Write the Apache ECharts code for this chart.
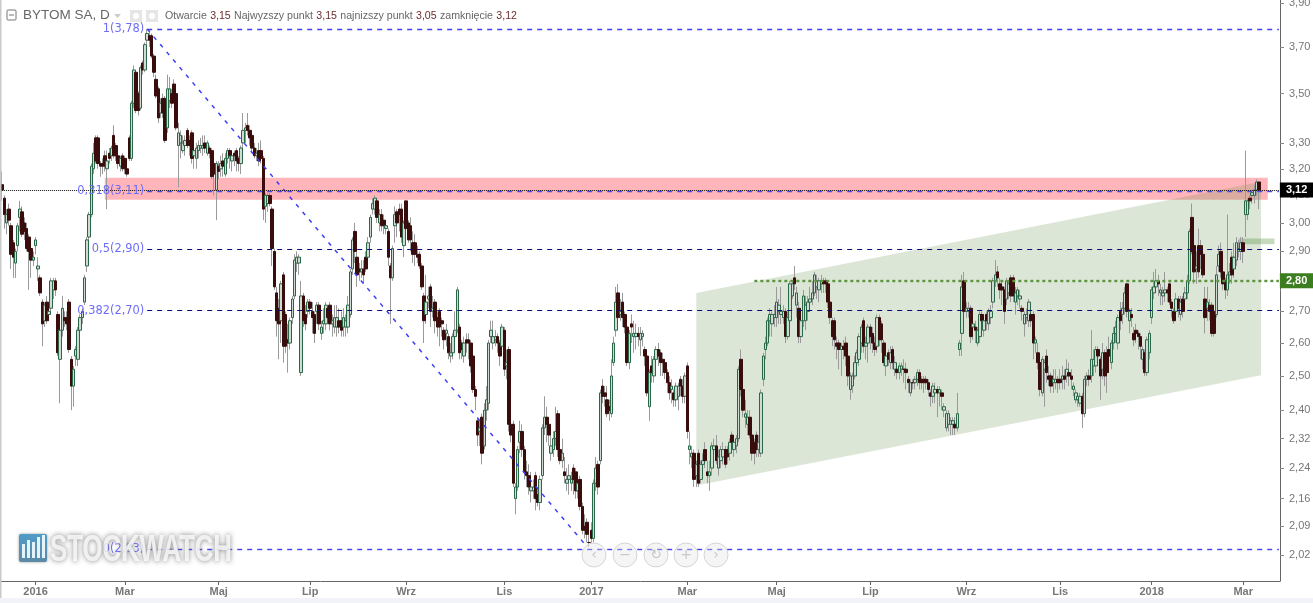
<!DOCTYPE html>
<html><head><meta charset="utf-8">
<style>html,body{margin:0;padding:0;background:#fff}#c{width:1313px;height:603px}</style>
<script src="https://cdn.jsdelivr.net/npm/echarts@6/dist/echarts.min.js"></script>
</head><body><div id="c"></div>
<script>
// [open, close, low, high]
const candles2016a = [
[3.14,3.12,3.08,3.19],[3.09,3.03,2.98,3.10],[3.00,3.03,2.96,3.05],[3.05,3.01,2.99,3.07],[2.99,2.89,2.84,3.00],[2.93,2.88,2.81,2.94],[2.86,2.90,2.81,2.91],[2.92,2.99,2.90,3.00],[3.02,3.05,2.97,3.08],[3.04,2.96,2.95,3.06],
[3.00,2.97,2.94,3.02],[2.98,2.91,2.90,3.00],[2.95,2.90,2.77,2.96],[2.91,2.87,2.81,2.93],[2.87,2.88,2.85,2.90],[2.92,2.94,2.89,2.95],[2.84,2.85,2.80,2.88],[2.81,2.76,2.75,2.82],[2.73,2.66,2.59,2.74],[2.67,2.72,2.65,2.73],
[2.73,2.67,2.66,2.75],[2.69,2.70,2.67,2.72],[2.71,2.80,2.70,2.81],[2.77,2.80,2.74,2.81],[2.80,2.77,2.75,2.81],[2.69,2.57,2.56,2.70],[2.55,2.64,2.42,2.65],[2.64,2.71,2.62,2.75],[2.68,2.67,2.65,2.70],[2.68,2.66,2.64,2.70],
[2.73,2.58,2.57,2.74],[2.55,2.47,2.40,2.56],[2.47,2.52,2.41,2.53],[2.56,2.58,2.53,2.59],[2.55,2.64,2.53,2.65],[2.64,2.68,2.62,2.69],[2.68,2.70,2.66,2.71],[2.73,2.81,2.72,2.82],[2.85,2.94,2.83,2.95],[2.95,3.03,2.93,3.04],
[3.03,3.21,3.02,3.22],[3.20,3.26,3.18,3.30],[3.32,3.23,3.22,3.33],[3.32,3.22,3.20,3.33],[3.22,3.21,3.17,3.23],[3.22,3.21,3.18,3.24],[3.25,3.21,3.19,3.27],[3.20,3.23,3.05,3.27],[3.26,3.24,3.22,3.28],[3.25,3.28,3.23,3.29],
[3.33,3.25,3.24,3.37],[3.29,3.25,3.23,3.30],[3.25,3.22,3.20,3.26],[3.21,3.24,3.19,3.25],[3.25,3.20,3.19,3.26],[3.24,3.20,3.18,3.25],[3.20,3.18,3.17,3.21],[3.32,3.24,3.23,3.33],[3.24,3.46,3.23,3.47],[3.46,3.60,3.44,3.62],
[3.59,3.43,3.42,3.60],[3.50,3.43,3.41,3.51],[3.44,3.61,3.43,3.62],[3.63,3.60,3.58,3.64],[3.60,3.71,3.59,3.72],[3.73,3.76,3.71,3.78],[3.75,3.73,3.70,3.77],[3.75,3.66,3.65,3.76],[3.66,3.59,3.57,3.67],[3.56,3.49,3.48,3.58],
[3.52,3.40,3.38,3.53],[3.42,3.46,3.40,3.48],[3.48,3.42,3.40,3.50],[3.48,3.31,3.30,3.49],[3.36,3.52,3.34,3.58],[3.47,3.52,3.44,3.57],[3.50,3.46,3.44,3.52],[3.54,3.48,3.46,3.56],[3.50,3.36,3.35,3.51],[3.29,3.34,3.13,3.38],
[3.30,3.33,3.24,3.35],[3.27,3.30,3.26,3.33],[3.29,3.31,3.25,3.33],[3.35,3.29,3.28,3.36],[3.31,3.29,3.25,3.33],[3.34,3.24,3.22,3.35],[3.25,3.27,3.20,3.29],[3.24,3.28,3.20,3.30],[3.27,3.29,3.24,3.31],[3.28,3.29,3.26,3.32],
[3.28,3.29,3.25,3.33],[3.30,3.28,3.26,3.33],[3.26,3.30,3.25,3.31],[3.28,3.26,3.24,3.29],[3.27,3.17,3.16,3.28],[3.22,3.18,3.10,3.24],[3.12,3.22,3.01,3.23],[3.21,3.19,3.16,3.23],[3.20,3.22,3.17,3.25],[3.23,3.21,3.17,3.26]
];
const candles2016b = [
[3.18,3.24,3.17,3.26],[3.24,3.27,3.22,3.28],[3.27,3.25,3.20,3.28],[3.23,3.25,3.19,3.27],[3.26,3.25,3.21,3.27],[3.27,3.23,3.19,3.28],[3.24,3.22,3.19,3.25],[3.22,3.28,3.18,3.29],[3.30,3.35,3.24,3.42],[3.35,3.36,3.30,3.38],
[3.37,3.35,3.33,3.42],[3.35,3.32,3.29,3.37],[3.33,3.28,3.26,3.35],[3.28,3.25,3.24,3.30],[3.25,3.26,3.23,3.28],[3.27,3.23,3.21,3.30],[3.27,3.24,3.22,3.31],[3.24,3.05,3.01,3.25],[3.06,3.10,3.00,3.11],[3.07,3.10,3.04,3.11],
[3.10,3.07,3.06,3.11],[3.05,2.91,2.85,3.06],[2.90,2.78,2.77,2.91],[2.76,2.67,2.62,2.78],[2.71,2.66,2.55,2.74],[2.67,2.79,2.60,2.80],[2.82,2.59,2.54,2.83],[2.69,2.59,2.57,2.70],[2.61,2.60,2.51,2.66],[2.60,2.67,2.58,2.68],
[2.68,2.74,2.66,2.75],[2.75,2.87,2.74,2.89],[2.86,2.88,2.83,2.90],[2.86,2.88,2.82,2.89],[2.51,2.75,2.50,2.80],[2.75,2.67,2.65,2.76],[2.69,2.66,2.64,2.72],[2.70,2.73,2.68,2.74],[2.73,2.71,2.69,2.74],[2.70,2.68,2.63,2.73],
[2.69,2.63,2.60,2.70],[2.70,2.72,2.66,2.73],[2.72,2.66,2.64,2.73],[2.63,2.65,2.61,2.67],[2.66,2.67,2.63,2.71],[2.66,2.72,2.64,2.73],[2.71,2.68,2.66,2.72],[2.72,2.66,2.64,2.73],[2.66,2.67,2.62,2.69],[2.65,2.68,2.63,2.72],
[2.65,2.68,2.62,2.72],[2.67,2.65,2.63,2.71],[2.67,2.64,2.62,2.70],[2.65,2.68,2.62,2.71],[2.65,2.67,2.62,2.69],[2.65,2.72,2.63,2.75],[2.69,2.83,2.68,2.84],[2.84,2.94,2.82,2.95],[2.97,2.90,2.86,3.00],[2.88,2.82,2.78,2.90],
[2.84,2.83,2.80,2.86],[2.83,2.84,2.81,2.87],[2.84,2.82,2.79,2.87],[2.88,2.84,2.83,2.90],[2.88,2.93,2.86,2.95],[2.95,3.02,2.93,3.03],[3.05,3.07,3.03,3.09],[3.05,3.09,3.03,3.10],[3.08,3.02,3.00,3.09],[3.00,3.03,2.97,3.05],
[3.03,2.99,2.97,3.05],[3.01,2.99,2.96,3.03],[2.98,2.99,2.96,3.00],[2.97,2.88,2.85,2.98],[2.85,2.81,2.66,2.86],[2.81,2.91,2.80,2.92],[2.99,3.03,2.93,3.06],[3.04,3.00,2.95,3.05],[3.05,3.03,2.97,3.07],[3.05,2.95,2.93,3.07],
[2.92,3.00,2.88,3.01],[3.08,2.98,2.96,3.08],[3.00,2.94,2.93,3.01],[2.99,2.94,2.90,3.02],[2.93,2.89,2.86,2.97],[2.93,2.89,2.85,2.96],[2.89,2.88,2.86,2.92],[2.89,2.85,2.84,2.90],[2.85,2.78,2.77,2.86],[2.75,2.67,2.60,2.76],
[2.69,2.73,2.66,2.82],[2.74,2.75,2.71,2.78],[2.78,2.70,2.65,2.79],[2.70,2.71,2.68,2.75],[2.73,2.67,2.63,2.74],[2.68,2.65,2.62,2.70],[2.70,2.65,2.59,2.71],[2.67,2.66,2.62,2.68],[2.64,2.61,2.58,2.65],[2.63,2.64,2.59,2.66]
];
const candles2016c = [
[2.62,2.57,2.55,2.63],[2.56,2.57,2.54,2.60],[2.57,2.62,2.55,2.63],[2.62,2.64,2.60,2.70],[2.64,2.77,2.63,2.78],[2.65,2.57,2.55,2.66],[2.60,2.58,2.55,2.61],[2.56,2.60,2.54,2.62],[2.61,2.60,2.57,2.63],[2.61,2.60,2.55,2.63],
[2.60,2.53,2.51,2.61],[2.56,2.46,2.45,2.57],[2.46,2.44,2.40,2.47],[2.37,2.33,2.30,2.38],[2.34,2.35,2.30,2.37],[2.38,2.28,2.25,2.39],[2.30,2.40,2.29,2.42],[2.40,2.43,2.37,2.47],[2.42,2.60,2.40,2.61],[2.62,2.64,2.60,2.67],
[2.60,2.62,2.58,2.67],[2.61,2.62,2.59,2.64],[2.62,2.60,2.57,2.63],[2.60,2.56,2.53,2.61],[2.59,2.65,2.57,2.66],[2.64,2.52,2.50,2.65],[2.53,2.54,2.49,2.58],[2.58,2.36,2.34,2.59],[2.36,2.33,2.31,2.37],[2.36,2.20,2.19,2.37],
[2.16,2.19,2.12,2.20],[2.19,2.29,2.18,2.30],[2.31,2.34,2.28,2.37],[2.34,2.29,2.27,2.36],[2.29,2.23,2.21,2.30],[2.23,2.22,2.19,2.26],[2.22,2.19,2.17,2.25],[2.18,2.19,2.15,2.23],[2.18,2.19,2.16,2.21],[2.22,2.16,2.13,2.23],
[2.17,2.15,2.14,2.19],[2.15,2.21,2.13,2.22],[2.22,2.35,2.21,2.36],[2.35,2.38,2.33,2.44],[2.38,2.36,2.31,2.41],[2.36,2.33,2.30,2.37],[2.28,2.30,2.26,2.33],[2.29,2.32,2.27,2.34],[2.32,2.34,2.30,2.41],[2.39,2.29,2.27,2.40],
[2.29,2.26,2.25,2.30],[2.26,2.28,2.24,2.32],[2.23,2.22,2.20,2.27],[2.20,2.21,2.18,2.24],[2.21,2.22,2.17,2.25],[2.20,2.21,2.18,2.23],[2.24,2.21,2.17,2.25],[2.23,2.18,2.16,2.24],[2.18,2.20,2.16,2.21],[2.21,2.14,2.13,2.22],
[2.14,2.08,2.07,2.15],[2.09,2.08,2.06,2.12],[2.10,2.07,2.05,2.11],[2.05,2.05,2.04,2.07]
];
const candles2017a = [
[2.08,2.06,2.05,2.10],[2.06,2.20,2.05,2.21],[2.20,2.24,2.18,2.27],[2.25,2.19,2.17,2.26],[2.26,2.45,2.25,2.46],[2.47,2.44,2.42,2.49],[2.45,2.44,2.41,2.47],[2.43,2.39,2.38,2.47],[2.41,2.40,2.37,2.43],[2.39,2.50,2.38,2.55],
[2.54,2.60,2.53,2.62],[2.64,2.73,2.62,2.78],[2.76,2.68,2.66,2.79],[2.69,2.70,2.67,2.74],[2.73,2.68,2.65,2.76],[2.69,2.65,2.63,2.70],[2.65,2.54,2.53,2.66],[2.54,2.63,2.52,2.64],[2.66,2.65,2.60,2.69],[2.62,2.63,2.57,2.67],
[2.62,2.63,2.58,2.66],[2.63,2.62,2.59,2.65],[2.61,2.63,2.56,2.65],[2.62,2.63,2.59,2.64],[2.58,2.56,2.53,2.59],[2.56,2.45,2.44,2.57],[2.41,2.51,2.37,2.52],[2.53,2.51,2.48,2.56],[2.50,2.55,2.48,2.56],[2.55,2.58,2.52,2.59],
[2.58,2.56,2.53,2.60],[2.57,2.54,2.50,2.58],[2.55,2.54,2.50,2.57],[2.54,2.51,2.49,2.55],[2.51,2.48,2.45,2.52],[2.48,2.45,2.43,2.50],[2.46,2.47,2.42,2.49],[2.45,2.43,2.41,2.46],[2.43,2.47,2.41,2.48],[2.44,2.47,2.40,2.48],
[2.49,2.47,2.44,2.50],[2.47,2.44,2.42,2.49],[2.44,2.50,2.42,2.51],[2.53,2.34,2.32,2.54],[2.29,2.30,2.25,2.34],[2.27,2.28,2.24,2.30],[2.28,2.21,2.19,2.29],[2.22,2.25,2.19,2.26],[2.28,2.20,2.19,2.29],[2.21,2.25,2.20,2.26],
[2.25,2.26,2.22,2.28],[2.29,2.26,2.24,2.31],[2.23,2.22,2.20,2.26],[2.22,2.23,2.18,2.26],[2.24,2.30,2.22,2.31],[2.29,2.30,2.25,2.32],[2.30,2.26,2.25,2.33],[2.24,2.27,2.22,2.29],[2.26,2.29,2.24,2.30],[2.27,2.29,2.25,2.31],
[2.29,2.25,2.24,2.30],[2.29,2.27,2.25,2.30],[2.28,2.31,2.26,2.32],[2.33,2.31,2.29,2.34],[2.29,2.31,2.27,2.33],[2.30,2.32,2.28,2.33],[2.32,2.52,2.31,2.53],[2.55,2.46,2.44,2.58],[2.46,2.40,2.38,2.47],[2.38,2.39,2.35,2.43],
[2.36,2.38,2.33,2.40],[2.38,2.33,2.32,2.40],[2.33,2.28,2.26,2.34],[2.31,2.28,2.25,2.32],[2.33,2.29,2.27,2.34],[2.29,2.31,2.27,2.33],[2.28,2.45,2.27,2.46],[2.49,2.56,2.47,2.57],[2.58,2.60,2.55,2.62],[2.60,2.67,2.59,2.68],
[2.67,2.69,2.62,2.71],[2.66,2.69,2.62,2.70],[2.68,2.69,2.65,2.72],[2.68,2.73,2.65,2.78],[2.70,2.72,2.66,2.74],[2.69,2.70,2.66,2.78],[2.68,2.70,2.66,2.72],[2.70,2.62,2.60,2.71],[2.62,2.68,2.61,2.70],[2.67,2.79,2.66,2.80],
[2.75,2.79,2.74,2.80],[2.81,2.79,2.77,2.85],[2.72,2.76,2.68,2.78],[2.71,2.62,2.60,2.73],[2.62,2.67,2.60,2.68],[2.67,2.75,2.65,2.77],[2.67,2.72,2.64,2.75],[2.70,2.73,2.67,2.75],[2.73,2.74,2.70,2.78],[2.74,2.76,2.72,2.80]
];
const candles2017b = [
[2.76,2.82,2.75,2.83],[2.78,2.80,2.74,2.82],[2.77,2.80,2.73,2.81],[2.79,2.80,2.76,2.82],[2.80,2.79,2.76,2.81],[2.80,2.79,2.76,2.81],[2.79,2.73,2.71,2.80],[2.73,2.68,2.66,2.74],[2.67,2.62,2.59,2.68],[2.67,2.61,2.58,2.68],
[2.60,2.59,2.55,2.62],[2.60,2.58,2.52,2.61],[2.58,2.59,2.50,2.60],[2.59,2.58,2.55,2.61],[2.60,2.56,2.53,2.62],[2.56,2.50,2.47,2.57],[2.46,2.50,2.43,2.51],[2.47,2.50,2.45,2.51],[2.50,2.54,2.49,2.56],[2.54,2.57,2.52,2.58],
[2.55,2.62,2.53,2.63],[2.60,2.65,2.57,2.66],[2.67,2.59,2.57,2.68],[2.59,2.60,2.55,2.62],[2.60,2.65,2.54,2.66],[2.65,2.62,2.58,2.66],[2.63,2.60,2.57,2.65],[2.60,2.58,2.56,2.62],[2.59,2.68,2.57,2.69],[2.68,2.61,2.59,2.69],
[2.66,2.61,2.57,2.67],[2.60,2.54,2.53,2.61],[2.53,2.56,2.50,2.58],[2.57,2.55,2.53,2.58],[2.54,2.57,2.52,2.59],[2.58,2.54,2.52,2.59],[2.52,2.54,2.50,2.56],[2.52,2.51,2.49,2.53],[2.51,2.53,2.49,2.54],[2.52,2.53,2.50,2.54],
[2.52,2.52,2.48,2.55],[2.52,2.51,2.46,2.54],[2.49,2.48,2.45,2.50],[2.45,2.48,2.44,2.49],[2.48,2.48,2.46,2.49],[2.48,2.49,2.46,2.50],[2.49,2.51,2.47,2.52],[2.51,2.48,2.46,2.52],[2.49,2.48,2.46,2.50],[2.49,2.48,2.45,2.50],
[2.49,2.48,2.46,2.50],[2.48,2.46,2.44,2.49],[2.45,2.44,2.41,2.46],[2.44,2.47,2.42,2.48],[2.45,2.46,2.42,2.48],[2.46,2.45,2.38,2.47],[2.45,2.46,2.41,2.47],[2.45,2.44,2.40,2.46],[2.40,2.41,2.38,2.42],[2.35,2.39,2.34,2.40],
[2.36,2.39,2.34,2.40],[2.36,2.37,2.33,2.38],[2.36,2.37,2.33,2.38],[2.36,2.35,2.33,2.38],[2.35,2.39,2.34,2.45],[2.58,2.60,2.56,2.61],[2.63,2.78,2.56,2.82],[2.80,2.70,2.68,2.83],[2.70,2.71,2.68,2.73],[2.70,2.71,2.68,2.73],
[2.71,2.62,2.60,2.72],[2.65,2.66,2.61,2.67],[2.65,2.64,2.60,2.67],[2.60,2.64,2.59,2.65],[2.62,2.69,2.60,2.70],[2.69,2.67,2.64,2.70],[2.64,2.67,2.62,2.69],[2.69,2.67,2.64,2.70],[2.66,2.70,2.64,2.71],[2.68,2.70,2.66,2.72],
[2.73,2.80,2.71,2.81],[2.80,2.82,2.78,2.87],[2.83,2.81,2.78,2.85],[2.79,2.77,2.74,2.81],[2.78,2.77,2.72,2.80],[2.77,2.70,2.66,2.78],[2.74,2.80,2.72,2.81],[2.76,2.79,2.74,2.80],[2.81,2.75,2.73,2.82],[2.81,2.75,2.73,2.82],
[2.73,2.76,2.69,2.78],[2.75,2.77,2.72,2.78],[2.74,2.75,2.71,2.77],[2.71,2.70,2.67,2.72],[2.66,2.69,2.62,2.70],[2.68,2.69,2.66,2.71],[2.67,2.73,2.65,2.74],[2.69,2.67,2.65,2.71],[2.69,2.60,2.55,2.70],[2.60,2.61,2.57,2.62],
[2.57,2.54,2.52,2.60],[2.54,2.46,2.44,2.55],[2.45,2.55,2.44,2.56],[2.52,2.54,2.41,2.55],[2.56,2.51,2.48,2.58],[2.50,2.49,2.47,2.53],[2.50,2.47,2.45,2.51],[2.48,2.49,2.45,2.52],[2.48,2.49,2.46,2.52],[2.49,2.48,2.45,2.50],
[2.49,2.48,2.46,2.52],[2.49,2.50,2.46,2.53],[2.50,2.49,2.46,2.52],[2.50,2.52,2.48,2.55],[2.51,2.50,2.47,2.54],[2.50,2.49,2.46,2.52],[2.46,2.47,2.44,2.48],[2.43,2.45,2.42,2.46],[2.43,2.44,2.41,2.45],[2.42,2.44,2.41,2.45],
[2.44,2.39,2.35,2.45],[2.39,2.49,2.38,2.50],[2.49,2.50,2.47,2.51],[2.50,2.49,2.47,2.52],[2.50,2.55,2.48,2.64],[2.53,2.55,2.50,2.58],[2.53,2.58,2.51,2.59],[2.58,2.56,2.53,2.59],[2.55,2.50,2.43,2.56],[2.52,2.57,2.49,2.60],
[2.57,2.50,2.47,2.58],[2.57,2.51,2.45,2.59],[2.58,2.56,2.52,2.62],[2.54,2.60,2.52,2.61],[2.60,2.63,2.58,2.65],[2.63,2.65,2.60,2.67],[2.60,2.68,2.58,2.69],[2.70,2.67,2.64,2.73],[2.69,2.71,2.66,2.73],[2.71,2.76,2.69,2.78],
[2.79,2.70,2.68,2.79],[2.67,2.70,2.63,2.71],[2.69,2.68,2.65,2.71],[2.63,2.61,2.59,2.65],[2.64,2.63,2.60,2.66],[2.63,2.62,2.58,2.64],[2.62,2.59,2.55,2.63],[2.55,2.58,2.52,2.59],[2.57,2.51,2.50,2.58],[2.51,2.61,2.50,2.62]
];
const candles2018 = [
[2.57,2.63,2.55,2.64],[2.68,2.77,2.66,2.78],[2.76,2.78,2.74,2.83],[2.78,2.80,2.76,2.84],[2.80,2.79,2.75,2.82],[2.76,2.77,2.72,2.79],[2.75,2.76,2.72,2.78],[2.76,2.77,2.73,2.83],[2.77,2.76,2.73,2.78],[2.79,2.73,2.72,2.80],
[2.73,2.71,2.68,2.74],[2.70,2.67,2.66,2.71],[2.70,2.74,2.68,2.76],[2.74,2.71,2.68,2.75],[2.69,2.73,2.67,2.75],[2.74,2.70,2.68,2.75],[2.74,2.76,2.71,2.78],[2.76,2.80,2.74,2.82],[2.80,2.97,2.79,2.98],[3.02,2.90,2.89,3.07],
[2.92,2.83,2.79,2.93],[2.84,2.85,2.79,2.90],[2.92,2.83,2.81,2.98],[2.92,2.89,2.84,2.94],[2.89,2.82,2.81,2.90],[2.74,2.68,2.63,2.78],[2.71,2.73,2.67,2.78],[2.72,2.70,2.67,2.74],[2.72,2.63,2.62,2.73],[2.70,2.63,2.62,2.71],
[2.69,2.82,2.68,2.85],[2.85,2.89,2.83,2.92],[2.90,2.83,2.81,2.93],[2.83,2.79,2.77,2.84],[2.80,2.77,2.74,2.81],[2.77,2.82,2.75,3.03],[2.82,2.83,2.79,2.86],[2.88,2.82,2.79,2.90],[2.84,2.88,2.81,2.93],[2.87,2.93,2.85,2.95],
[2.90,2.91,2.88,2.94],[2.90,2.93,2.87,2.95],[2.93,2.90,2.86,2.95],[3.03,3.08,2.95,3.27],[3.03,3.08,3.01,3.09],[3.09,3.08,3.05,3.10],[3.10,3.11,3.07,3.12],[3.10,3.12,3.07,3.14],[3.12,3.15,3.10,3.16],[3.15,3.12,3.05,3.15]
];
const slotCount = 573;
const axisTickIndex = [15,55,97,138,181,225,264,307,347,389,432,474,515,556];
const axisTickText = ['2016','Mar','Maj','Lip','Wrz','Lis','2017','Mar','Maj','Lip','Wrz','Lis','2018','Mar'];
const priceTicks = [3.9,3.7,3.5,3.3,3.2,3.1,3.0,2.9,2.8,2.7,2.6,2.5,2.4,2.32,2.24,2.16,2.09,2.02];
const fibLevels = [3.78,3.116,2.907,2.702,2.034];
const fibLabels = ['1(3,78)','0,318(3,11)','0,5(2,90)','0,382(2,70)','0(2,03)'];
const fibColors = ['#3f3ff5','#4a4af5','#08087a','#08087a','#3f3ff5'];
const fibWidths = [1.4,1.4,1,1,1.4];
const fibStart = 65, fibEnd = 572;
const trendFrom = [65,3.78], trendTo = [262,2.04];
const lastPrice = 3.12, supportPrice = 2.80, supportStart = 337;
const zoneRed = {x0:46,x1:567,top:3.166,bottom:3.084};
const zoneGreenSmall = {x0:554,x1:570,top:2.945,bottom:2.925};
const channelIndex = [311,564,564,311];
const channelPrice = [2.76,3.151,2.502,2.194];

const candles = [...candles2016a,...candles2016b,...candles2016c,...candles2017a,...candles2017b,...candles2018];
const cats = Array.from({length:slotCount},(_,i)=>'d'+i);
const fmt = v => Number(v).toFixed(2).replace('.',',');
const uiFont = '"Liberation Sans",Arial,sans-serif';

const fibLines = fibLevels.map((v,i)=>[
  {coord:[fibStart,v],lineStyle:{color:fibColors[i],type:[5,5],width:fibWidths[i]},
   label:{show:true,position:'start',formatter:fibLabels[i],color:'#6d6dfb',fontSize:11.4,distance:3,fontFamily:'"DejaVu Sans",sans-serif'}},
  {coord:[fibEnd,v]}]);
const trendLine=[{coord:trendFrom,lineStyle:{color:'#3f3ff5',type:[4,6],width:1.5},label:{show:false}},{coord:trendTo}];
const lastLine=[{coord:[0,lastPrice],lineStyle:{color:'#111',type:[1,1],width:1},
  label:{show:true,position:'end',distance:1,formatter:fmt(lastPrice),backgroundColor:'#000',color:'#fff',fontWeight:'bold',fontSize:11,padding:[2,7,2,6],fontFamily:uiFont}},{coord:[572,lastPrice]}];
const supLine=[{coord:[supportStart,supportPrice],lineStyle:{color:'#5d9440',type:[3,3],width:2.4},
  label:{show:true,position:'end',distance:1,formatter:fmt(supportPrice),backgroundColor:'#3b7d1f',color:'#fff',fontWeight:'bold',fontSize:11,padding:[2,7,2,6],fontFamily:uiFont}},{coord:[572,supportPrice]}];

// interface decoration
const navX=[594,625,656,686,716], navGlyph=['‹','−','↻','+','›'];
const gfx=[
 {type:'rect',shape:{x:0,y:0,width:1.5,height:598},style:{fill:'#c9c9c9'},z:50},
 {type:'rect',shape:{x:0,y:598,width:1313,height:5},style:{fill:'#f1f3f8'},z:50},
 {type:'rect',shape:{x:7,y:10,width:9,height:10,r:1},style:{fill:'none',stroke:'#777',lineWidth:1},z:50},
 {type:'line',shape:{x1:9,y1:15,x2:14,y2:15},style:{stroke:'#777',lineWidth:1},z:50},
 {type:'text',x:23,y:8,style:{text:'BYTOM SA, D',fill:'#666',font:'13.5px '+uiFont},z:50},
 {type:'polygon',shape:{points:[[114,14],[121,14],[117.5,18]]},style:{fill:'#ccc'},z:50},
 {type:'rect',shape:{x:130,y:10,width:12,height:12},style:{fill:'#e6e6e6'},z:50},
 {type:'rect',shape:{x:146,y:10,width:12,height:12},style:{fill:'#e6e6e6'},z:50},
 {type:'circle',shape:{cx:136,cy:16,r:3},style:{fill:'#fff'},z:51},
 {type:'circle',shape:{cx:152,cy:16,r:3},style:{fill:'#fff'},z:51},
 {type:'text',x:165,y:10,style:{rich:{l:{fill:'#666',font:'10.6px '+uiFont},v:{fill:'#6b2d2d',font:'10.6px '+uiFont}},
   text:'{l|Otwarcie} {v|3,15} {l|Najwyzszy punkt} {v|3,15} {l|najnizszy punkt} {v|3,05} {l|zamknięcie} {v|3,12}'},z:50},
 {type:'rect',shape:{x:19,y:534,width:28,height:28,r:2},style:{fill:new echarts.graphic.LinearGradient(0,0,0,1,[{offset:0,color:'#4f9cc8'},{offset:1,color:'#5b8aa6'}]),shadowBlur:3,shadowColor:'#999'},z:60},
 ...[[22,14],[27,18],[32,16],[37,21],[42,23]].map(b=>({type:'rect',shape:{x:b[0],y:558-b[1],width:3,height:b[1]},style:{fill:'#e6f3fa'},z:61})),
 {type:'text',x:50,y:532,scaleX:0.695,style:{text:'STOCKWATCH',fill:'rgba(255,255,255,0.78)',font:'bold 37px "Liberation Sans"',stroke:'rgba(255,255,255,0.5)',lineWidth:1,textShadowColor:'#777',textShadowBlur:5},z:60},
 ...navX.map((x,i)=>({type:'circle',shape:{cx:x,cy:555,r:12},style:{fill:'rgba(225,225,225,0.35)',stroke:'#d5d5d5',lineWidth:1},z:70})),
 ...navX.map((x,i)=>({type:'text',x:x,y:555,style:{text:navGlyph[i],fill:'#c8c8c8',font:'14px "DejaVu Sans"',align:'center',verticalAlign:'middle'},z:71}))
];

const chart=echarts.init(document.getElementById('c'),null,{renderer:'canvas'});
chart.setOption({
 animation:false,backgroundColor:'#fff',
 grid:{left:1,width:1279,top:0,height:581,outerBoundsMode:'none'},
 graphic:gfx,
 xAxis:{type:'category',data:cats,boundaryGap:true,
   axisLine:{show:true,lineStyle:{color:'#666'}},
   axisTick:{show:true,alignWithLabel:true,length:4,lineStyle:{color:'#666'},interval:i=>axisTickIndex.includes(i)},
   axisLabel:{show:true,color:'#777',fontSize:11,fontWeight:'bold',fontFamily:uiFont,margin:5,
     interval:i=>axisTickIndex.includes(i),formatter:(v,i)=>axisTickText[axisTickIndex.indexOf(i)]||''},
   splitLine:{show:false}},
 yAxis:{type:'log',logBase:10,position:'right',min:1.958,max:3.913,
   axisLine:{show:true,lineStyle:{color:'#666'}},
   axisTick:{show:true,length:4,lineStyle:{color:'#888'},customValues:priceTicks},
   axisLabel:{show:true,color:'#777',fontSize:11,fontFamily:uiFont,margin:9,customValues:priceTicks,formatter:fmt,showMinLabel:true,showMaxLabel:true},
   splitLine:{show:false},minorTick:{show:false}},
 series:[
  {type:'custom',name:'channel',z:1,silent:true,clip:false,
   data:channelIndex.map((x,i)=>[x,channelPrice[i]]),
   encode:{x:0,y:1},
   renderItem:(p,api)=>{ if(p.dataIndex!==0) return null;
     const pts=channelIndex.map((x,i)=>api.coord([x,channelPrice[i]]));
     return {type:'polygon',shape:{points:pts},style:{fill:'rgba(96,140,74,0.22)'}};}},
  {type:'candlestick',name:'wicks',z:3,barWidth:1,silent:true,
   data:candles,
   itemStyle:{color:'#9a9a9a',color0:'#9a9a9a',borderColor:'#9a9a9a',borderColor0:'#9a9a9a',borderWidth:1},
   markArea:{silent:true,itemStyle:{color:'rgba(255,60,70,0.38)'},
     data:[[{coord:[zoneRed.x0,zoneRed.top]},{coord:[zoneRed.x1,zoneRed.bottom]}],
           [{coord:[zoneGreenSmall.x0,zoneGreenSmall.top],itemStyle:{color:'rgba(110,160,90,0.4)'}},{coord:[zoneGreenSmall.x1,zoneGreenSmall.bottom]}]]}},
  {type:'candlestick',name:'bytom',z:4,barWidth:3,silent:true,
   data:candles.map(r=>[r[0],r[1],Math.min(r[0],r[1]),Math.max(r[0],r[1])]),
   itemStyle:{color:'#cfdcd2',color0:'#3a0d0d',borderColor:'#2a6648',borderColor0:'#3a0d0d',borderColorDoji:'#3a0d0d',borderWidth:1},
   markLine:{silent:true,symbol:'none',animation:false,data:[...fibLines,trendLine,lastLine,supLine]}}
 ]
});
</script></body></html>
